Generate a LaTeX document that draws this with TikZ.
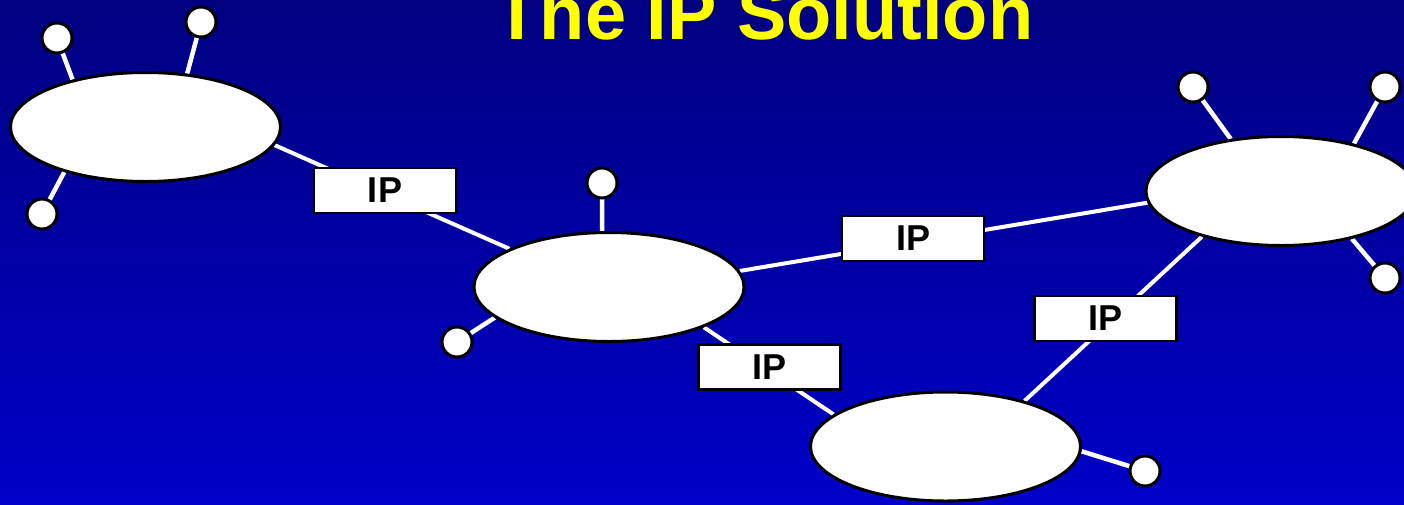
\documentclass[tikz,border=0pt]{standalone}
\usepackage{fontspec}
\setmainfont{Liberation Sans}
\usetikzlibrary{shapes.geometric}
\pgfdeclarelayer{bg}
\pgfdeclarelayer{wires}
\pgfsetlayers{bg,wires,main}
\definecolor{navytop}{RGB}{0,0,128}
\definecolor{bluebot}{RGB}{0,0,200}
\definecolor{titleyellow}{RGB}{255,255,0}
\tikzset{
  net/.style={ellipse, draw=black, fill=white, line width=3pt, minimum width=270pt, minimum height=109pt, inner sep=0pt},
  host/.style={circle, draw=black, fill=white, line width=3pt, minimum size=30pt, inner sep=0pt},
  ipbox/.style={rectangle, draw=black, fill=white, line width=2.5pt, minimum width=142pt, minimum height=45pt, inner sep=0pt, font=\fontsize{36}{40}\selectfont\bfseries},
  link/.style={draw=white, line width=4pt},
  spoke/.style={draw=white, line width=4.5pt}
}
\begin{document}
\begin{tikzpicture}[x=1pt,y=-1pt]
\useasboundingbox (0,0) rectangle (1404,504);
\begin{pgfonlayer}{bg}
\shade[top color=navytop, bottom color=bluebot] (0,0) rectangle (1404,504);
\end{pgfonlayer}
\node[anchor=base, text=titleyellow, font=\fontsize{74}{84}\selectfont\bfseries] (title) at (764,39.5) {The IP Solution};
% networks
\node[net] (e1) at (145.5,127) {};
\node[net] (e2) at (609,287) {};
\node[net] (e3) at (1281,191) {};
\node[net] (e4) at (945.5,446.5) {};
% hosts
\node[host] (c1) at (57,38) {};
\node[host] (c2) at (201,22) {};
\node[host] (c3) at (42,214) {};
\node[host] (c4) at (602,183) {};
\node[host] (c5) at (457,342) {};
\node[host] (c6) at (1193,87) {};
\node[host] (c7) at (1385,87) {};
\node[host] (c8) at (1385,278) {};
\node[host] (c9) at (1145,471) {};
\begin{pgfonlayer}{wires}
\draw[spoke] (c1.center) -- (e1.147);
\draw[spoke] (c2.center) -- (e1.52);
\draw[spoke] (c3.center) -- (e1.209);
\draw[spoke] (c4.center) -- (e2.97);
\draw[spoke] (c5.center) -- (e2.195.5);
\draw[spoke] (c6.center) -- (e3.134);
\draw[spoke] (c7.center) -- (e3.33);
\draw[spoke] (c8.center) -- (e3.326);
\draw[spoke] (c9.center) -- (e4.358.5);
\draw[link] (e1.352) -- (e2.159.5);
\draw[link] (e2.7) -- (e3.185);
\draw[link] (e2.337) -- (e4.164.7);
\draw[link] (e3.210.6) -- (e4.30.9);
\end{pgfonlayer}
% IP labels
\node[ipbox] (ip1) at (385,190.5) {IP};
\node[ipbox] (ip2) at (913,238.5) {IP};
\node[ipbox] (ip3) at (769.5,367) {IP};
\node[ipbox] (ip4) at (1105.5,318.5) {IP};
\end{tikzpicture}
\end{document}
